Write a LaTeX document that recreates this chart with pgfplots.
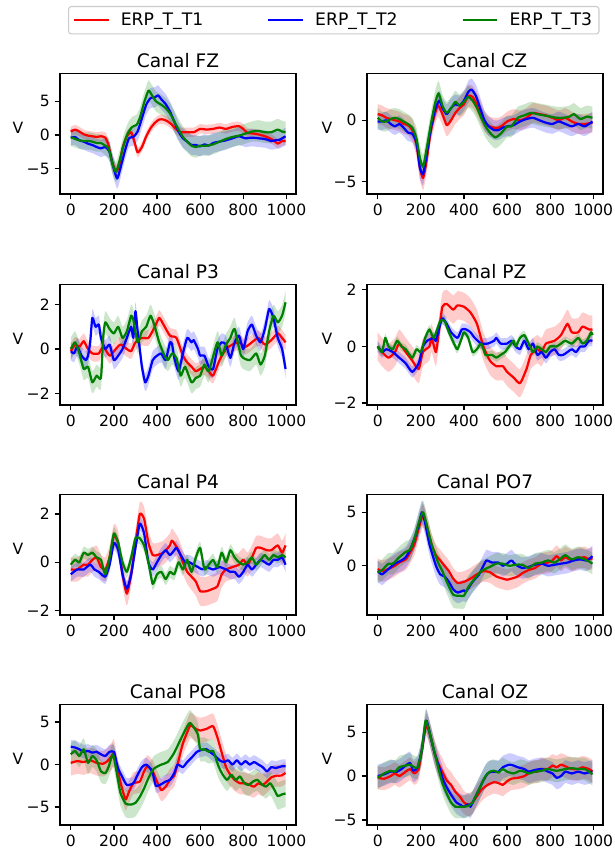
\documentclass[border=0pt]{standalone}
\usepackage{fontspec}
\setmainfont{DejaVu Sans}
\usepackage{pgfplots}
\usepgfplotslibrary{fillbetween}
\pgfplotsset{compat=1.18}
\usepackage{pgfplotstable}

\definecolor{cT1}{rgb}{1,0,0}
\definecolor{cT2}{rgb}{0,0,1}
\definecolor{cT3}{rgb}{0,0.5,0}

% ---------- Canal FZ ----------
\pgfplotstableread{
t m e
0 0.5 0.7
20 0.8 0.7
40 0.5 0.7
60 0.1 0.7
80 -0.1 0.7
100 -0.2 0.7
120 -0.3 0.7
140 -0.2 0.7
160 -0.4 0.8
175 -1.5 0.9
190 -3.8 1.0
210 -5.5 1.0
225 -4.5 1.0
240 -2.0 0.9
260 -0.2 0.8
280 0.4 0.8
295 -1.0 0.8
310 -2.6 0.7
330 -1.8 0.7
350 -0.2 0.7
370 1.0 0.7
390 1.8 0.7
410 2.3 0.7
430 2.3 0.7
450 2.0 0.7
470 1.5 0.7
490 0.8 0.7
510 0.4 0.7
540 0.4 0.7
570 0.4 0.7
600 0.9 0.7
630 0.8 0.7
660 0.9 0.7
690 1.1 0.7
720 0.9 0.7
750 1.2 0.7
780 1.3 0.7
800 0.9 0.7
820 0.3 0.7
850 0.2 0.7
880 0.0 0.7
910 -0.3 0.7
940 -0.8 0.7
960 -1.3 0.7
980 -0.9 0.7
996 -0.9 0.7
}\tFZr
\pgfplotstableread{
t m e
0 -0.4 1.2
20 -0.3 1.2
40 -0.8 1.2
60 -1.0 1.2
80 -1.3 1.2
100 -1.5 1.2
120 -1.8 1.2
140 -2.0 1.3
160 -1.8 1.3
180 -2.5 1.4
195 -4.5 1.5
215 -6.5 1.5
230 -5.0 1.5
250 -2.5 1.4
270 -0.5 1.3
290 -0.3 1.3
310 0.5 1.4
330 2.5 1.5
350 4.5 1.5
370 5.5 1.5
390 5.6 1.5
405 5.9 1.5
420 5.3 1.5
440 4.6 1.5
460 3.5 1.5
480 2.0 1.5
500 0.5 1.4
520 -0.5 1.4
540 -1.0 1.4
560 -1.5 1.5
580 -1.5 1.5
600 -1.7 1.5
620 -1.4 1.5
640 -1.6 1.5
660 -1.2 1.5
690 -1.0 1.4
720 -0.8 1.4
750 -0.5 1.3
780 -0.2 1.3
810 -0.5 1.3
840 -0.4 1.3
870 -0.5 1.3
900 -0.6 1.3
930 -0.9 1.3
950 -0.8 1.3
970 -0.7 1.3
996 -0.2 1.3
}\tFZb
\pgfplotstableread{
t m e
0 -0.3 1.3
20 -0.6 1.3
40 -0.8 1.3
60 -0.9 1.3
80 -0.9 1.3
100 -1.0 1.3
120 -1.2 1.3
140 -1.2 1.3
160 -1.6 1.4
175 -2.0 1.5
195 -4.5 1.5
210 -5.5 1.5
225 -4.0 1.5
245 -1.5 1.5
265 0.3 1.5
285 1.2 1.5
305 1.5 1.5
320 2.5 1.5
340 4.8 1.5
360 6.6 1.5
375 6.0 1.5
395 5.0 1.5
420 4.5 1.5
440 4.0 1.5
460 3.2 1.5
480 2.0 1.6
500 0.8 1.6
520 -0.3 1.6
540 -1.0 1.6
560 -1.6 1.6
580 -1.8 1.6
600 -1.6 1.5
630 -1.6 1.5
660 -1.4 1.5
690 -1.0 1.5
720 -0.6 1.5
750 -0.3 1.5
780 -0.1 1.5
810 0.2 1.5
840 0.5 1.5
870 0.6 1.6
900 0.4 1.6
930 0.4 1.6
960 0.8 1.6
980 0.5 1.6
996 0.4 1.6
}\tFZg

% ---------- Canal CZ ----------
\pgfplotstableread{
t m e
0 0.5 0.8
20 0.4 0.8
40 0.2 0.8
60 0.1 0.8
80 0.0 0.8
100 -0.1 0.8
120 -0.3 0.8
140 -0.4 0.8
160 -0.8 0.9
180 -2.0 1.0
195 -3.8 1.0
210 -4.7 1.0
225 -3.5 1.0
245 -1.0 0.9
265 0.5 0.9
280 1.2 0.9
300 0.5 0.9
320 -0.4 0.9
340 0.0 0.9
360 0.6 0.9
380 1.0 0.9
400 1.3 0.9
420 2.0 0.9
440 1.9 0.9
460 1.3 0.9
480 0.5 0.9
500 -0.2 0.8
520 -0.5 0.8
540 -0.6 0.8
560 -0.6 0.8
580 -0.4 0.8
600 -0.1 0.8
630 0.1 0.8
660 0.0 0.8
690 0.2 0.8
720 0.6 0.8
750 0.5 0.8
780 0.4 0.8
810 0.2 0.8
840 0.0 0.8
870 0.2 0.8
900 -0.1 0.8
930 -0.3 0.8
960 -0.3 0.8
996 -0.2 0.8
}\tCZr
\pgfplotstableread{
t m e
0 -0.1 0.7
20 -0.1 0.7
40 0.0 0.7
60 -0.3 0.7
80 -0.5 0.7
100 -0.3 0.7
120 -0.6 0.7
140 -1.0 0.7
160 -1.1 0.7
180 -1.8 0.8
195 -3.8 0.9
210 -4.4 0.9
225 -3.0 0.9
245 -0.8 0.8
265 0.8 0.8
285 1.6 0.8
300 1.0 0.8
320 0.5 0.8
340 1.0 0.8
360 1.3 0.8
380 1.2 0.8
400 1.6 0.8
420 2.3 0.9
435 2.5 0.9
455 2.0 0.9
475 1.0 0.9
495 0.0 0.8
515 -0.5 0.8
540 -0.8 0.8
560 -0.8 0.8
580 -0.6 0.8
600 -0.5 0.8
630 -0.4 0.8
660 -0.1 0.8
690 0.1 0.8
720 0.2 0.8
750 0.0 0.8
780 -0.2 0.8
810 -0.3 0.8
840 -0.1 0.8
870 -0.3 0.8
900 -0.5 0.8
930 -0.3 0.8
960 -0.5 0.8
996 -0.1 0.8
}\tCZb
\pgfplotstableread{
t m e
0 0.2 0.8
20 -0.1 0.8
40 -0.1 0.8
60 0.1 0.8
80 0.2 0.8
100 0.1 0.8
120 -0.1 0.8
140 -0.3 0.8
160 -0.6 0.8
180 -1.5 0.9
195 -3.0 1.0
210 -3.8 1.0
225 -2.5 1.0
245 -0.5 1.0
265 1.3 1.0
282 2.2 1.0
300 1.2 0.9
320 0.6 0.9
345 1.1 0.9
360 1.5 0.9
380 1.2 0.9
400 1.5 0.9
420 1.9 0.9
440 1.6 0.9
460 1.0 0.9
480 0.2 0.9
500 -0.5 0.9
520 -1.0 0.9
545 -1.4 0.9
570 -1.1 0.9
600 -0.5 0.9
620 -0.5 0.9
650 0.2 0.9
680 0.4 0.9
710 0.6 0.9
740 0.5 0.9
770 0.4 0.9
800 0.3 0.9
830 0.2 0.9
860 0.2 0.9
890 0.3 0.9
910 0.5 0.9
940 0.1 0.9
970 0.3 0.9
996 0.2 0.9
}\tCZg

% ---------- Canal P3 ----------
\pgfplotstableread{
t m e
0 -0.1 0.35
20 0.2 0.35
40 0.1 0.35
60 0.35 0.35
80 0.0 0.35
100 -0.2 0.35
130 -0.2 0.35
150 0.1 0.35
180 -0.3 0.35
200 -0.1 0.35
230 0.2 0.35
260 0.0 0.35
280 -0.1 0.35
300 0.3 0.35
330 0.5 0.35
360 0.5 0.35
390 1.0 0.35
410 1.4 0.35
430 1.1 0.35
460 0.6 0.35
490 0.5 0.35
520 -0.3 0.35
540 -0.6 0.35
560 -0.8 0.35
580 -1.0 0.35
600 -0.9 0.35
620 -0.8 0.35
640 -1.0 0.35
660 -1.2 0.35
690 -0.5 0.35
720 0.0 0.35
750 0.2 0.35
780 0.3 0.35
810 0.1 0.35
840 0.3 0.35
870 0.5 0.35
900 0.2 0.35
930 0.4 0.35
960 0.7 0.35
980 0.5 0.35
996 0.3 0.35
}\tPthreer
\pgfplotstableread{
t m e
0 -0.1 0.4
15 -0.2 0.4
30 0.1 0.4
50 -0.3 0.4
70 -0.5 0.4
80 -0.3 0.4
90 0.3 0.4
100 1.4 0.4
115 1.0 0.4
130 1.1 0.4
140 0.5 0.4
160 0.0 0.4
180 0.2 0.4
200 -0.5 0.4
220 -0.3 0.4
240 0.0 0.4
260 0.5 0.4
280 1.0 0.4
290 0.5 0.4
300 1.7 0.4
310 0.8 0.4
320 0.0 0.4
330 -0.8 0.4
345 -1.5 0.4
360 -1.2 0.4
380 -0.5 0.4
400 -0.3 0.4
420 -0.2 0.4
440 -0.5 0.4
460 0.3 0.4
470 0.2 0.4
480 -0.4 0.4
500 -1.0 0.4
520 -0.2 0.4
540 0.5 0.4
560 0.3 0.4
570 0.4 0.4
590 0.0 0.4
600 -0.3 0.4
620 -0.3 0.4
640 -0.8 0.4
660 -0.9 0.4
680 0.0 0.4
700 0.3 0.4
720 0.2 0.4
740 -0.4 0.4
760 0.3 0.4
780 0.6 0.4
800 0.0 0.4
820 0.8 0.4
840 1.1 0.4
860 0.6 0.4
880 0.3 0.4
900 0.9 0.4
920 1.8 0.4
940 1.4 0.4
960 0.5 0.4
980 0.0 0.4
996 -0.9 0.4
}\tPthreeb
\pgfplotstableread{
t m e
0 0.0 0.5
20 0.3 0.5
40 -0.2 0.5
60 -0.9 0.5
80 -0.8 0.5
100 -1.5 0.5
120 -1.2 0.5
140 -1.3 0.5
150 0.5 0.5
160 1.2 0.5
180 0.9 0.5
200 0.7 0.5
220 1.0 0.5
240 0.5 0.5
260 0.8 0.5
280 1.5 0.5
290 1.3 0.5
310 0.3 0.5
330 0.8 0.5
350 1.0 0.5
370 1.5 0.5
390 1.0 0.5
410 0.3 0.5
430 -0.2 0.5
450 -0.5 0.5
470 -0.2 0.5
490 -0.4 0.5
510 -1.2 0.5
530 -0.8 0.5
560 -1.5 0.5
580 -1.3 0.5
600 -1.2 0.5
620 -0.7 0.5
640 -1.0 0.5
680 0.3 0.5
700 -0.3 0.5
720 0.2 0.5
740 0.5 0.5
760 0.9 0.5
790 -0.3 0.5
830 -0.5 0.5
860 -0.2 0.5
880 -0.7 0.5
900 -0.3 0.5
920 0.8 0.5
940 1.5 0.5
960 1.2 0.5
980 1.5 0.5
996 2.1 0.5
}\tPthreeg

% ---------- Canal PZ ----------
\pgfplotstableread{
t m e
0 0.0 0.5
20 -0.2 0.5
50 -0.4 0.5
80 -0.2 0.5
100 0.1 0.5
130 -0.2 0.5
160 -0.5 0.5
190 -0.8 0.5
210 -0.2 0.5
240 0.0 0.5
250 0.3 0.5
270 -0.2 0.5
285 0.6 0.5
300 1.4 0.5
320 1.5 0.5
350 1.3 0.5
370 1.45 0.5
400 1.4 0.5
430 1.2 0.5
460 0.8 0.5
490 0.0 0.5
520 -0.5 0.5
550 -0.7 0.5
580 -0.7 0.5
600 -0.9 0.5
630 -1.1 0.5
660 -1.3 0.5
690 -0.8 0.5
710 -0.3 0.5
740 -0.1 0.5
760 -0.2 0.5
780 0.1 0.5
820 0.2 0.5
850 0.4 0.5
880 0.8 0.5
900 0.5 0.5
930 0.5 0.5
950 0.7 0.5
980 0.6 0.5
996 0.6 0.5
}\tPZr
\pgfplotstableread{
t m e
0 0.0 0.2
20 -0.2 0.2
40 -0.1 0.2
70 -0.2 0.2
100 -0.4 0.2
130 -0.6 0.2
160 -0.9 0.2
190 -0.6 0.2
210 0.0 0.2
230 0.2 0.2
260 0.3 0.2
270 0.2 0.2
290 0.8 0.2
300 1.0 0.2
320 0.8 0.2
340 0.5 0.2
370 0.3 0.2
390 0.6 0.2
410 0.6 0.2
430 0.5 0.2
450 0.3 0.2
480 0.1 0.2
510 0.1 0.2
540 0.2 0.2
550 0.3 0.2
570 0.1 0.2
600 0.1 0.2
620 0.2 0.2
640 0.0 0.2
660 -0.1 0.2
680 0.2 0.2
700 -0.1 0.2
720 0.1 0.2
740 -0.3 0.2
760 -0.2 0.2
780 -0.4 0.2
800 -0.2 0.2
820 -0.1 0.2
840 -0.3 0.2
860 -0.3 0.2
880 -0.2 0.2
900 -0.1 0.2
920 -0.2 0.2
940 0.0 0.2
960 0.0 0.2
980 0.2 0.2
996 0.2 0.2
}\tPZb
\pgfplotstableread{
t m e
0 0.0 0.15
20 -0.2 0.15
35 0.3 0.15
50 0.0 0.15
70 -0.1 0.15
90 0.2 0.15
110 0.0 0.15
130 -0.1 0.15
160 -0.4 0.15
180 -0.1 0.15
200 -0.2 0.15
220 0.3 0.15
240 0.6 0.15
260 0.3 0.15
290 0.9 0.15
310 0.9 0.15
330 0.5 0.15
360 0.0 0.15
370 -0.1 0.15
390 0.3 0.15
400 0.5 0.15
420 0.3 0.15
440 -0.2 0.15
460 -0.1 0.15
480 0.1 0.15
500 -0.3 0.15
530 -0.3 0.15
550 -0.4 0.15
570 -0.3 0.15
590 -0.2 0.15
610 0.0 0.15
630 0.2 0.15
640 0.0 0.15
660 0.3 0.15
680 0.4 0.15
700 0.1 0.15
720 -0.2 0.15
740 0.0 0.15
760 -0.1 0.15
780 -0.2 0.15
800 0.0 0.15
830 0.0 0.15
850 0.1 0.15
870 0.2 0.15
900 0.1 0.15
930 0.3 0.15
950 0.1 0.15
970 0.2 0.15
990 0.5 0.15
996 0.4 0.15
}\tPZg

% ---------- Canal P4 ----------
\pgfplotstableread{
t m e
0 -0.3 0.5
30 -0.3 0.5
60 -0.1 0.5
80 -0.1 0.5
100 0.1 0.5
120 0.2 0.5
140 -0.2 0.5
160 -0.3 0.5
180 0.2 0.5
200 1.1 0.5
220 0.8 0.5
240 -0.5 0.5
260 -1.3 0.5
280 -0.5 0.5
300 0.8 0.5
320 2.0 0.5
340 1.8 0.5
360 0.8 0.5
380 0.3 0.5
400 0.3 0.5
430 0.4 0.5
460 0.7 0.5
470 0.9 0.5
500 0.5 0.5
520 0.0 0.5
540 -0.4 0.5
560 -0.6 0.55
580 -0.8 0.6
600 -1.2 0.6
630 -1.2 0.6
660 -1.1 0.6
680 -1.0 0.6
700 -0.5 0.55
720 -0.3 0.5
750 -0.2 0.5
780 -0.1 0.5
800 0.1 0.5
820 -0.1 0.5
840 0.2 0.5
860 0.6 0.5
880 0.6 0.5
910 0.5 0.5
930 0.5 0.5
960 0.7 0.5
980 0.4 0.5
996 0.7 0.5
}\tPfourr
\pgfplotstableread{
t m e
0 -0.5 0.3
30 -0.3 0.3
60 -0.3 0.3
90 -0.1 0.3
110 -0.3 0.3
130 -0.4 0.3
160 -0.6 0.3
180 -0.1 0.3
200 0.8 0.3
220 0.5 0.3
240 -0.5 0.3
260 -1.1 0.3
280 -0.5 0.3
300 0.6 0.3
320 1.6 0.3
340 1.2 0.3
360 0.0 0.3
380 -0.3 0.3
400 0.0 0.3
420 0.3 0.3
440 0.5 0.3
460 0.3 0.3
480 0.5 0.3
490 0.6 0.3
510 0.3 0.3
530 0.0 0.3
550 0.0 0.3
570 -0.1 0.3
590 -0.2 0.3
610 -0.3 0.3
630 -0.2 0.3
660 -0.3 0.3
690 -0.2 0.3
720 -0.3 0.3
740 -0.4 0.3
760 -0.4 0.3
780 -0.6 0.3
800 -0.4 0.3
820 -0.1 0.3
840 -0.3 0.3
860 -0.1 0.3
880 0.1 0.3
900 0.0 0.3
920 -0.1 0.3
940 0.1 0.3
960 0.1 0.3
980 0.2 0.3
996 -0.1 0.3
}\tPfourb
\pgfplotstableread{
t m e
0 -0.1 0.25
20 0.1 0.25
40 0.0 0.25
60 0.4 0.25
80 0.3 0.25
100 0.4 0.25
120 0.2 0.25
140 0.1 0.25
160 -0.5 0.25
180 0.2 0.25
200 1.2 0.25
220 0.8 0.25
240 0.0 0.25
260 -0.4 0.25
280 0.2 0.25
300 1.0 0.25
320 1.0 0.25
340 0.7 0.25
360 0.0 0.25
380 -0.9 0.25
400 -0.5 0.25
420 -0.4 0.25
440 -0.7 0.25
460 -0.4 0.25
480 -0.5 0.25
500 0.0 0.25
520 -0.3 0.25
540 0.1 0.25
560 -0.4 0.25
580 0.2 0.25
600 0.6 0.25
620 -0.3 0.25
640 -0.1 0.25
660 0.1 0.25
680 -0.2 0.25
700 0.4 0.25
720 0.0 0.25
740 0.5 0.25
760 0.2 0.25
780 0.0 0.25
800 -0.1 0.25
820 0.0 0.25
840 0.2 0.25
860 -0.1 0.25
880 0.1 0.25
900 0.3 0.25
920 0.1 0.25
940 0.3 0.25
960 0.2 0.25
980 0.3 0.25
996 0.2 0.25
}\tPfourg

% ---------- Canal PO7 ----------
\pgfplotstableread{
t m e
0 -0.3 1.0
20 -0.5 1.0
50 -0.3 1.0
80 0.0 1.0
100 0.3 1.0
130 0.6 1.0
150 1.2 1.0
170 2.0 1.0
190 3.5 1.1
210 4.7 1.1
230 3.5 1.1
250 2.0 1.0
270 1.0 1.0
290 0.5 1.0
310 0.0 1.0
330 -0.5 1.0
350 -1.2 1.0
370 -1.6 1.0
400 -1.5 1.0
430 -1.2 1.0
460 -0.8 1.0
490 -0.5 1.0
520 -0.6 1.0
550 -1.0 1.0
580 -1.2 1.0
600 -1.3 1.0
620 -1.2 1.0
650 -1.0 1.0
670 -0.7 1.0
700 -0.4 1.0
730 -0.2 1.0
760 0.2 1.0
790 0.3 1.0
810 0.5 1.0
830 0.9 1.0
850 0.5 1.0
870 0.8 1.0
900 0.5 1.0
930 0.7 1.0
960 0.8 1.0
980 0.6 1.0
996 0.7 1.0
}\tPOsevenr
\pgfplotstableread{
t m e
0 -0.5 1.0
20 -0.8 1.0
50 -0.3 1.0
80 0.2 1.0
110 0.5 1.0
130 0.8 1.0
150 1.5 1.0
170 2.5 1.0
190 3.8 1.1
205 5.0 1.1
220 4.0 1.1
240 2.0 1.0
270 0.0 1.0
290 -0.8 1.0
310 -1.0 1.0
330 -1.5 1.0
350 -2.2 1.0
370 -2.5 1.0
400 -2.3 1.0
410 -2.4 1.0
440 -1.5 1.0
470 -0.8 1.0
490 0.0 1.0
505 0.5 1.0
530 0.3 1.0
560 0.3 1.0
580 0.0 1.0
600 0.2 1.0
620 0.5 1.0
640 0.1 1.0
670 -0.2 1.0
700 -0.1 1.0
730 0.1 1.0
760 0.2 1.0
790 0.0 1.0
820 0.1 1.0
850 0.2 1.0
880 0.3 1.0
910 0.5 1.0
940 0.6 1.0
970 0.5 1.0
996 0.9 1.0
}\tPOsevenb
\pgfplotstableread{
t m e
0 -0.6 1.0
20 -0.4 1.0
50 0.2 1.0
70 0.2 1.0
100 0.8 1.0
130 1.3 1.0
150 1.5 1.0
170 2.5 1.0
190 4.0 1.1
210 5.0 1.1
225 4.0 1.1
250 2.0 1.0
280 0.3 1.0
300 -0.5 1.0
320 -1.5 1.1
350 -2.7 1.2
380 -2.8 1.2
400 -2.8 1.2
420 -2.0 1.1
450 -1.2 1.0
480 -0.5 1.0
520 -0.1 1.0
550 0.2 1.0
580 0.2 1.0
610 0.0 1.0
640 0.1 1.0
670 0.1 1.0
700 -0.2 1.0
730 0.2 1.0
760 0.3 1.0
790 0.5 1.0
820 0.3 1.0
850 0.7 1.0
870 1.0 1.0
900 0.6 1.0
930 0.8 1.0
960 0.6 1.0
980 0.4 1.0
996 0.2 1.0
}\tPOseveng

% ---------- Canal PO8 ----------
\pgfplotstableread{
t m e
0 0.2 1.5
30 0.4 1.5
60 0.3 1.5
90 0.5 1.5
120 0.2 1.5
150 0.1 1.5
170 0.4 1.5
190 1.0 1.6
200 1.4 1.6
210 0.2 1.5
225 -1.5 1.4
240 -3.0 1.3
255 -4.1 1.3
270 -3.2 1.3
290 -2.2 1.3
320 -2.0 1.3
340 -0.8 1.3
355 -0.2 1.3
380 -0.8 1.3
400 -2.0 1.3
420 -3.0 1.3
440 -2.6 1.3
460 -1.8 1.3
480 -1.3 1.3
500 0.5 1.4
520 2.5 1.4
540 3.8 1.5
555 4.6 1.5
580 4.2 1.5
600 4.0 1.5
630 4.2 1.5
660 4.5 1.5
680 3.2 1.5
700 1.4 1.5
720 -0.3 1.5
740 -1.2 1.4
760 -1.8 1.3
785 -2.2 1.3
810 -2.2 1.3
830 -2.4 1.3
850 -2.6 1.3
870 -2.2 1.3
890 -2.4 1.3
910 -2.0 1.3
930 -1.5 1.3
955 -1.3 1.3
975 -1.3 1.3
996 -1.0 1.3
}\tPOeightr
\pgfplotstableread{
t m e
0 2.1 0.8
20 2.0 0.8
40 1.8 0.8
60 1.5 0.8
80 1.6 0.8
100 1.4 0.8
120 1.5 0.8
140 1.2 0.8
160 1.0 0.8
180 1.5 0.8
200 1.5 0.8
210 0.5 0.8
220 -0.5 0.8
240 -1.5 0.8
260 -2.4 0.8
290 -2.2 0.8
310 -1.2 0.8
330 -0.3 0.8
350 0.0 0.8
370 -0.5 0.8
380 -1.0 0.8
395 -2.5 0.8
420 -2.3 0.8
440 -2.0 0.8
460 -1.8 0.8
480 -1.0 0.8
495 0.0 0.8
520 -0.3 0.8
540 0.3 0.8
560 0.8 0.8
585 1.5 0.8
605 1.7 0.8
630 1.8 0.8
650 1.4 0.8
670 1.0 0.8
690 0.5 0.8
710 0.3 0.8
730 0.5 0.8
750 0.0 0.8
770 0.5 0.8
790 0.0 0.8
810 0.4 0.8
830 0.0 0.8
850 0.3 0.8
870 0.0 0.8
890 -0.3 0.8
910 -0.8 0.8
930 -0.3 0.8
950 -0.4 0.8
980 -0.2 0.8
996 -0.2 0.8
}\tPOeightb
\pgfplotstableread{
t m e
0 1.2 1.3
20 1.6 1.3
40 1.0 1.3
60 1.8 1.3
80 0.2 1.3
100 1.0 1.3
120 0.5 1.3
140 -0.8 1.3
160 -1.0 1.3
175 -0.3 1.3
195 1.2 1.4
210 -0.5 1.4
230 -3.3 1.5
255 -4.6 1.6
280 -4.7 1.6
300 -4.5 1.6
320 -3.8 1.5
340 -2.8 1.5
360 -1.6 1.5
385 -0.5 1.5
420 0.0 1.5
450 0.3 1.5
480 1.4 1.5
510 3.0 1.5
530 4.0 1.5
552 4.9 1.5
575 4.2 1.5
590 3.5 1.4
600 1.8 1.4
620 1.8 1.4
640 1.5 1.4
660 1.6 1.4
685 -0.2 1.4
705 -1.2 1.3
725 -1.8 1.3
745 -1.2 1.3
765 -1.8 1.3
785 -1.4 1.3
805 -2.2 1.3
825 -2.4 1.3
845 -2.0 1.3
865 -1.8 1.3
885 -2.3 1.3
905 -2.6 1.4
925 -2.2 1.4
945 -3.0 1.5
960 -3.7 1.6
980 -3.5 1.6
996 -3.4 1.6
}\tPOeightg

% ---------- Canal OZ ----------
\pgfplotstableread{
t m e
0 -0.2 1.3
30 -0.3 1.3
60 0.0 1.3
80 0.3 1.3
100 0.0 1.3
130 0.5 1.3
150 0.8 1.3
170 0.3 1.3
190 0.8 1.3
205 3.0 1.3
225 5.8 1.3
245 4.5 1.4
260 3.0 1.5
280 1.5 1.5
300 0.5 1.5
320 -0.5 1.5
340 -1.0 1.5
360 -1.8 1.5
380 -2.3 1.4
400 -3.0 1.3
420 -3.3 1.3
440 -3.0 1.3
460 -2.3 1.3
480 -1.6 1.3
510 -1.0 1.3
540 -0.7 1.3
560 -0.8 1.3
580 -1.0 1.3
600 -0.6 1.3
620 -0.3 1.3
650 -0.2 1.3
680 0.0 1.3
700 0.3 1.3
720 0.5 1.3
740 0.5 1.3
760 0.8 1.3
790 0.8 1.3
810 1.2 1.3
830 1.0 1.3
850 1.3 1.3
880 1.0 1.3
900 0.8 1.3
930 0.8 1.3
950 1.0 1.3
980 0.8 1.3
996 0.5 1.3
}\tOZr
\pgfplotstableread{
t m e
0 0.0 1.3
30 0.2 1.3
60 0.5 1.3
90 0.5 1.3
110 0.8 1.3
130 1.2 1.3
150 1.5 1.3
165 0.6 1.3
185 1.0 1.3
205 3.0 1.3
225 6.3 1.3
245 4.5 1.3
265 2.5 1.3
285 1.0 1.3
305 -0.5 1.3
325 -1.5 1.3
345 -2.3 1.3
365 -3.0 1.3
385 -3.3 1.3
400 -3.5 1.3
420 -3.2 1.3
430 -3.5 1.3
450 -2.5 1.3
470 -1.5 1.3
490 -0.5 1.3
510 0.3 1.3
530 0.5 1.3
560 0.5 1.3
580 1.0 1.3
610 1.3 1.3
630 1.2 1.3
650 1.0 1.3
680 0.8 1.3
700 0.5 1.3
730 0.7 1.3
760 0.8 1.3
790 0.5 1.3
810 0.3 1.3
830 -0.2 1.3
850 0.0 1.3
870 0.5 1.3
900 0.3 1.3
930 0.5 1.3
960 0.3 1.3
990 0.5 1.3
996 0.5 1.3
}\tOZb
\pgfplotstableread{
t m e
0 -0.2 1.3
30 0.3 1.3
60 0.6 1.3
80 0.5 1.3
100 1.0 1.3
130 1.2 1.3
150 1.3 1.3
170 1.0 1.3
185 1.0 1.3
205 3.0 1.3
222 6.3 1.3
240 5.0 1.3
260 3.0 1.3
280 1.0 1.3
300 -0.8 1.3
320 -2.0 1.3
340 -3.0 1.3
360 -3.5 1.3
380 -3.5 1.3
400 -3.5 1.3
420 -3.4 1.3
440 -3.0 1.3
460 -2.0 1.3
480 -1.0 1.3
500 0.0 1.3
520 0.5 1.3
540 0.6 1.3
560 0.4 1.3
580 0.8 1.3
600 0.5 1.3
630 0.3 1.3
660 0.6 1.3
680 0.5 1.3
700 0.3 1.3
730 0.5 1.3
760 0.6 1.3
790 0.8 1.3
830 0.6 1.3
870 0.8 1.3
900 0.9 1.3
930 0.8 1.3
960 0.8 1.3
980 0.5 1.3
996 0.2 1.3
}\tOZg

% mean curve with its shaded spread: #1 table, #2 colour, #3 path tag
\newcommand{\erp}[3]{%
  \addplot[draw=none, forget plot, smooth, tension=0.35, name path=#3u] table[x=t, y expr=\thisrow{m}+\thisrow{e}] {#1};
  \addplot[draw=none, forget plot, smooth, tension=0.35, name path=#3d] table[x=t, y expr=\thisrow{m}-\thisrow{e}] {#1};
  \addplot[fill=#2, fill opacity=0.2, draw=none, forget plot] fill between[of=#3u and #3d];
  \addplot[#2, line width=1.6pt, line join=round, smooth, tension=0.35] table[x=t, y=m] {#1};
}

\newcommand{\tickfont}{\fontsize{11.2}{13.4}\selectfont}
\newcommand{\legfont}{\fontsize{12.4}{14.5}\selectfont}

\pgfplotsset{
  erpaxis/.style={
    scale only axis, width=170pt, height=87pt,
    xmin=-50, xmax=1045,
    xtick={0,200,400,600,800,1000},
    xticklabels={0,200,400,600,800,1000},
    tick pos=left, tick align=outside, major tick length=3.9pt,
    every tick/.style={black, line width=0.9pt},
    axis line style={line width=0.9pt},
    tick label style={font=\tickfont},
    title style={font=\fontsize{13.4}{16}\selectfont, at={(axis description cs:0.5,1)}, anchor=base, yshift=-2pt},
    ylabel={V},
    ylabel style={rotate=-90, anchor=south, inner sep=0pt, font=\tickfont},
  },
  leftcol/.style={erpaxis, ylabel style={at={(axis description cs:-0.178,0.5)}}},
  rightcol/.style={erpaxis, ylabel style={at={(axis description cs:-0.169,0.5)}}},
}

\begin{document}
\begin{tikzpicture}

% Row 1
\begin{axis}[leftcol, at={(43.2pt,475.2pt)}, anchor=south west,
  title={Canal FZ}, ymin=-8.8, ymax=9.2,
  ytick={-5,0,5}, yticklabels={−5,0,5},
  legend columns=3, legend cell align=left,
  legend image code/.code={\draw[#1, line width=1.6pt] (0pt,0pt) -- (25pt,0pt);},
  legend style={at={(axis description cs:0.034,1.556)}, anchor=north west,
    draw=black!20, rounded corners=2pt, line width=0.8pt,
    inner xsep=3pt, inner ysep=2.5pt,
    nodes={font=\legfont},
    /tikz/every odd column/.append style={column sep=6pt},
    /tikz/every even column/.append style={column sep=44pt}}]
\erp{\tFZr}{cT1}{r}
\erp{\tFZb}{cT2}{b}
\erp{\tFZg}{cT3}{g}
\legend{ERP\_T\_T1, ERP\_T\_T2, ERP\_T\_T3}
\end{axis}

\begin{axis}[rightcol, at={(264.2pt,475.2pt)}, anchor=south west,
  title={Canal CZ}, ymin=-6.0, ymax=3.83,
  ytick={-5,0}, yticklabels={−5,0}]
\erp{\tCZr}{cT1}{r}
\erp{\tCZb}{cT2}{b}
\erp{\tCZg}{cT3}{g}
\end{axis}

% Row 2
\begin{axis}[leftcol, at={(43.2pt,323.3pt)}, anchor=south west,
  title={Canal P3}, ymin=-2.52, ymax=2.92,
  ytick={-2,0,2}, yticklabels={−2,0,2}]
\erp{\tPthreer}{cT1}{r}
\erp{\tPthreeb}{cT2}{b}
\erp{\tPthreeg}{cT3}{g}
\end{axis}

\begin{axis}[rightcol, at={(264.2pt,323.3pt)}, anchor=south west,
  title={Canal PZ}, ymin=-2.07, ymax=2.2,
  ytick={-2,0,2}, yticklabels={−2,0,2}]
\erp{\tPZr}{cT1}{r}
\erp{\tPZb}{cT2}{b}
\erp{\tPZg}{cT3}{g}
\end{axis}

% Row 3
\begin{axis}[leftcol, at={(43.2pt,172.1pt)}, anchor=south west,
  title={Canal P4}, ymin=-2.19, ymax=2.83,
  ytick={-2,0,2}, yticklabels={−2,0,2}]
\erp{\tPfourr}{cT1}{r}
\erp{\tPfourb}{cT2}{b}
\erp{\tPfourg}{cT3}{g}
\end{axis}

\begin{axis}[rightcol, at={(264.2pt,172.1pt)}, anchor=south west,
  title={Canal PO7}, ymin=-4.6, ymax=6.7,
  ytick={0,5}, yticklabels={0,5},
  ylabel style={at={(axis description cs:-0.122,0.5)}}]
\erp{\tPOsevenr}{cT1}{r}
\erp{\tPOsevenb}{cT2}{b}
\erp{\tPOseveng}{cT3}{g}
\end{axis}

% Row 4
\begin{axis}[leftcol, at={(43.2pt,20.9pt)}, anchor=south west,
  title={Canal PO8}, ymin=-7.1, ymax=7.1,
  ytick={-5,0,5}, yticklabels={−5,0,5}]
\erp{\tPOeightr}{cT1}{r}
\erp{\tPOeightb}{cT2}{b}
\erp{\tPOeightg}{cT3}{g}
\end{axis}

\begin{axis}[rightcol, at={(264.2pt,20.9pt)}, anchor=south west,
  title={Canal OZ}, ymin=-5.57, ymax=8.19,
  ytick={-5,0,5}, yticklabels={−5,0,5}]
\erp{\tOZr}{cT1}{r}
\erp{\tOZb}{cT2}{b}
\erp{\tOZg}{cT3}{g}
\end{axis}

% page frame
\pgfresetboundingbox
\useasboundingbox (0pt,0pt) rectangle (442.1pt,614.9pt);
\end{tikzpicture}
\end{document}
